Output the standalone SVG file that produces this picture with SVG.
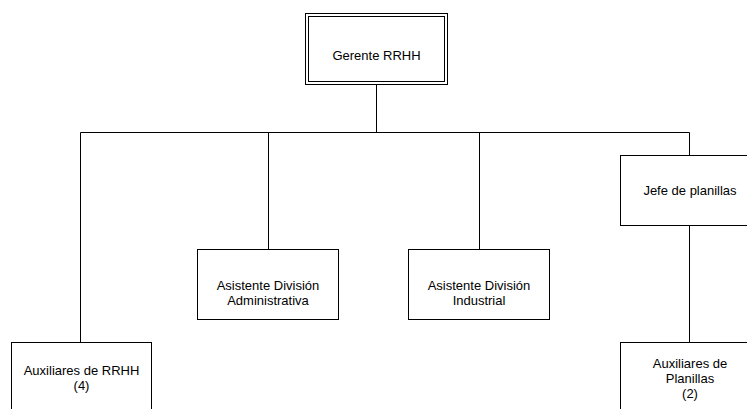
<svg xmlns="http://www.w3.org/2000/svg" width="747" height="409" viewBox="0 0 747 409">
<style>
.box{fill:#fff;stroke:#000;stroke-width:1}
.ln{fill:none;stroke:#000;stroke-width:1}
text{font-family:"Liberation Sans",Arial,sans-serif;font-size:13px;fill:#000;text-anchor:middle}
</style>
<rect width="747" height="409" fill="#fff"/>
<g id="connectors">
<path class="ln" d="M376.5 84 V132.5 M80.5 132.5 H689.5 M80.5 132.5 V343 M268.5 132.5 V249.5 M479.5 132.5 V249.5 M689.5 132.5 V155.5 M689.5 225.5 V342.5"/>
</g>
<g id="gerente">
<rect class="box" x="305.5" y="13.5" width="142" height="71"/>
<rect class="box" x="308.5" y="16.5" width="136" height="65"/>
<text x="376.5" y="59.5">Gerente RRHH</text>
</g>
<g id="jefe">
<rect class="box" x="620.5" y="155.5" width="140" height="70"/>
<text x="690" y="195">Jefe de planillas</text>
</g>
<g id="asist-admin">
<rect class="box" x="197.5" y="249.5" width="141" height="70"/>
<text x="268" y="289.5">Asistente División</text>
<text x="268" y="304.5">Administrativa</text>
</g>
<g id="asist-ind">
<rect class="box" x="408.5" y="249.5" width="141" height="70"/>
<text x="479" y="289.5">Asistente División</text>
<text x="479" y="304.5">Industrial</text>
</g>
<g id="aux-rrhh">
<rect class="box" x="11.5" y="342.5" width="140" height="80"/>
<text x="81.5" y="375">Auxiliares de RRHH</text>
<text x="81.5" y="390">(4)</text>
</g>
<g id="aux-planillas">
<rect class="box" x="620.5" y="342.5" width="140" height="80"/>
<text x="690" y="367.5">Auxiliares de</text>
<text x="690" y="382.5">Planillas</text>
<text x="690" y="397.5">(2)</text>
</g>
</svg>
